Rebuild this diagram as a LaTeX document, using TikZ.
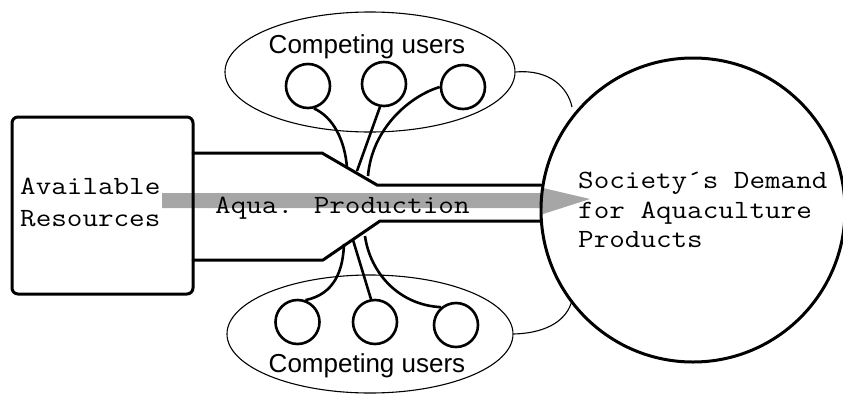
\documentclass[tikz,border=0pt]{standalone}
\usepackage{fontspec}
\setmainfont{Liberation Sans}
\newfontfamily\monofont[FakeStretch=1.15]{Latin Modern Mono}
\usetikzlibrary{shapes.geometric}
\begin{document}
\begin{tikzpicture}[x=1pt,y=-1pt,
  thickline/.style={line width=3pt, line join=round, line cap=round},
  user/.style={circle, draw, line width=2.6pt, minimum size=44pt, inner sep=0pt},
  group/.style={ellipse, draw, line width=1.1pt, inner sep=0pt},
  link/.style={line width=2.6pt},
  thin/.style={line width=1.1pt},
  monotext/.style={font=\monofont\fontsize{26.3}{30}\selectfont, inner sep=0pt, anchor=base west},
  sanstext/.style={font=\fontsize{26}{30}\selectfont, inner sep=0pt, anchor=base},
  band/.style={fill=black!35, draw=none}
]
\useasboundingbox (0,0) rectangle (843,394);

% shaded flow arrow (behind)
\fill[band] (162,193) -- (543,193) -- (543,188) -- (590,199) -- (543,214) -- (543,208) -- (162,208) -- cycle;

% available resources box
\node[draw, line width=3pt, rounded corners=6pt, minimum width=181pt, minimum height=177pt, inner sep=0pt] (res) at (102.5,205.5) {};
\node[monotext] (av1) at (20,194) {Available};
\node[monotext] (av2) at (20,226) {Resources};

% demand circle
\node[circle, draw, line width=3pt, minimum size=304pt, inner sep=0pt] (dem) at (693,210) {};
\node[monotext] (s1) at (578,188) {Society´s Demand};
\node[monotext] (s2) at (578,218) {for Aquaculture};
\node[monotext] (s3) at (578,247) {Products};

% channel
\coordinate (u1) at (193,153);
\coordinate (u2) at (322,153);
\coordinate (u3) at (377,185);
\coordinate (u4) at (541,185);
\coordinate (l1) at (193,260);
\coordinate (l2) at (323,260);
\coordinate (l3) at (380,221);
\coordinate (l4) at (541,221);
\draw[thickline] (u1) -- (u2) -- (u3) -- (u4);
\draw[thickline] (l1) -- (l2) -- (l3) -- (l4);
\node[monotext] (aqua) at (215,213) {Aqua. Production};

% top group
\node[group, minimum width=290pt, minimum height=120pt] (topg) at (370,72) {};
\node[sanstext] (toplab) at (367,53) {Competing users};
\node[user] (t1) at (308,86) {};
\node[user] (t2) at (384,84) {};
\node[user] (t3) at (463,87) {};
\coordinate (tj1) at (347,168);
\coordinate (tj2) at (357,171);
\coordinate (tj3) at (368,176);
\draw[link] (t1.-75) .. controls (333,117) and (345,140) .. (tj1);
\draw[link] (t2.-100) -- (tj2);
\draw[link] (t3.west) .. controls (410,96) and (372,128) .. (tj3);
\coordinate (tc) at (572,107);
\draw[thin] (topg.east) .. controls (550,69) and (568,88) .. (tc);

% bottom group
\node[group, minimum width=286pt, minimum height=118pt] (botg) at (370,334) {};
\node[sanstext] (botlab) at (367,372) {Competing users};
\node[user] (b1) at (297.5,322) {};
\node[user] (b2) at (375,322) {};
\node[user] (b3) at (456,325) {};
\coordinate (bj1) at (344,244);
\coordinate (bj2) at (353,240);
\coordinate (bj3) at (365,236);
\draw[link] (b1.70) .. controls (335,294) and (343,270) .. (bj1);
\draw[link] (b2.100) -- (bj2);
\draw[link] (b3.130) .. controls (398,305) and (370,272) .. (bj3);
\coordinate (bc) at (572,300);
\draw[thin] (botg.east) .. controls (550,333) and (568,318) .. (bc);
\end{tikzpicture}
\end{document}
